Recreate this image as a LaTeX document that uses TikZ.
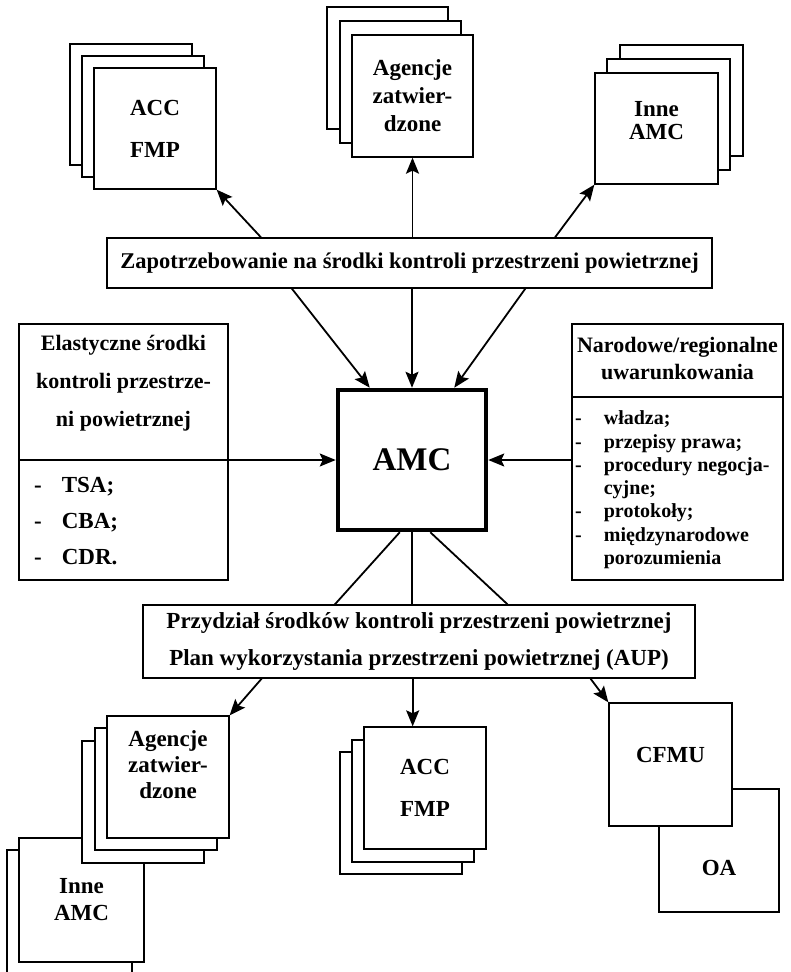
\documentclass[tikz,border=0pt]{standalone}
\usepackage{fontspec}
\setmainfont{Liberation Serif}
\usetikzlibrary{arrows.meta, positioning, calc}

\begin{document}
\begin{tikzpicture}[x=1pt, y=-1pt,
    sheet/.style={draw, fill=white, line width=1.3pt},
    rule/.style={line width=1.3pt},
    box/.style={sheet, inner sep=0pt, align=center, minimum width=122pt, minimum height=122pt,
      font=\bfseries\fontsize{23}{26}\selectfont},
    bar/.style={sheet, inner sep=0pt, align=center, font=\bfseries\fontsize{22.5}{37}\selectfont},
    txt/.style={inner sep=0pt, align=center, font=\bfseries\fontsize{23}{26}\selectfont},
    arr/.style={-{Stealth[length=16pt, width=13pt, inset=3pt]}, line width=1.8pt},
    link/.style={line width=1.8pt}]

  \clip (0,0) rectangle (790,972);

  % Top stacks
  \foreach \d in {24,12}
    \draw[sheet] (94-\d,68-\d) rectangle ++(122,121);
  \node[box, minimum height=121pt, font=\bfseries\fontsize{23}{42}\selectfont] (accTL) at (155,128.5) {ACC\\FMP};

  \foreach \dx/\dy in {25/28,12/14}
    \draw[sheet] (352-\dx,35-\dy) rectangle ++(121,122);
  \node[box, minimum width=121pt, font=\bfseries\fontsize{23}{28}\selectfont] (aggTM) at (412.5,96) {Agencje\\zatwier-\\dzone};

  \foreach \dx/\dy in {25/28,12/14}
    \draw[sheet] (595+\dx,73-\dy) rectangle ++(123,111);
  \node[box, minimum width=123pt, minimum height=111pt] (inneTR) at (656.5,128.5) {};
  \node[txt, font=\bfseries\fontsize{23}{23}\selectfont] (inneTRtxt) at (656.5,121) {Inne\\AMC};

  % Demand bar and centre
  \node[bar, minimum width=605pt, minimum height=50pt] (zap) at (409.5,263) {Zapotrzebowanie na środki kontroli przestrzeni powietrznej};
  \node[draw, fill=white, line width=4.5pt, inner sep=0pt, minimum width=148pt, minimum height=140pt,
    font=\bfseries\fontsize{33}{40}\selectfont] (amc) at (412,460) {AMC};

  % Left box
  \node[sheet, minimum width=209pt, minimum height=256pt] (elast) at (123.5,452) {};
  \draw[rule] (elast.west |- amc.west) -- (elast.east |- amc.west);
  \node[txt, font=\bfseries\fontsize{22}{38}\selectfont] (elastHead) at (123.5,383) {Elastyczne środki\\kontroli przestrze-\\ni powietrznej};
  \node[txt, anchor=west, align=left, font=\bfseries\fontsize{23}{36}\selectfont] (elastList) at (34,521)
    {\begin{tabular}{@{}l@{\hspace{20pt}}l@{}}-&TSA;\\-&CBA;\\-&CDR.\end{tabular}};

  % Right box
  \node[sheet, minimum width=211pt, minimum height=256pt] (narod) at (677.5,452) {};
  \coordinate (narodCut) at (677.5,397);
  \draw[rule] (narod.west |- narodCut) -- (narod.east |- narodCut);
  \node[txt, font=\bfseries\fontsize{22}{27}\selectfont] (narodHead) at (677.5,358) {Narodowe/regionalne\\uwarunkowania};
  \node[txt, anchor=west, align=left, font=\bfseries\fontsize{20}{23.3}\selectfont] (narodList) at (575,490)
    {\begin{tabular}{@{}l@{\hspace{22pt}}l@{}}-&władza;\\-&przepisy prawa;\\-&procedury negocja-\\&cyjne;\\-&protokoły;\\-&międzynarodowe\\&porozumienia\end{tabular}};

  % Allocation bar
  \node[bar, minimum width=552pt, minimum height=73pt, font=\bfseries\fontsize{23}{37}\selectfont] (przy) at (419,641.5)
    {Przydział środków kontroli przestrzeni powietrznej\\Plan wykorzystania przestrzeni powietrznej (AUP)};

  % Bottom stacks
  \draw[sheet] (7,850) rectangle ++(125,130);
  \node[box, minimum width=125pt, minimum height=124pt, font=\bfseries\fontsize{23}{27}\selectfont] (inneBL) at (81.5,900) {Inne\\AMC};

  \foreach \d in {25,12}
    \draw[sheet] (107-\d,716+\d) rectangle ++(122,122);
  \node[box] (aggBL) at (168,777) {};
  \node[txt, font=\bfseries\fontsize{23}{26}\selectfont] (aggBLtxt) at (168,765) {Agencje\\zatwier-\\dzone};

  \foreach \d in {24,12}
    \draw[sheet] (364-\d,728+\d) rectangle ++(122,122);
  \node[box, font=\bfseries\fontsize{23}{42}\selectfont] (accBM) at (425,788) {ACC\\FMP};

  \node[box, minimum width=120pt, minimum height=123pt] (oa) at (719,850.5) {};
  \node[txt] (oaTxt) at (719,868) {OA};
  \node[box, minimum width=123pt, minimum height=123pt] (cfmu) at (670.5,764.5) {};
  \node[txt] (cfmuTxt) at (670.5,755) {CFMU};

  % Connectors
  \draw[arr] ($(zap.north west)!0.255!(zap.north east)$) -- (accTL.south east);
  \draw[arr] (zap.north -| aggTM.south) -- (aggTM.south);
  \draw[arr] ($(zap.north west)!0.74!(zap.north east)$) -- (inneTR.south west);
  \draw[arr] ($(zap.south west)!0.306!(zap.south east)$) -- ($(amc.north west)!0.223!(amc.north east)$);
  \draw[arr] (zap.south -| amc.north) -- (amc.north);
  \draw[arr] ($(zap.south west)!0.691!(zap.south east)$) -- ($(amc.north west)!0.777!(amc.north east)$);
  \draw[arr] (elast.east |- amc.west) -- (amc.west);
  \draw[arr] (narod.west |- amc.east) -- (amc.east);
  \draw[link] ($(amc.south west)!0.42!(amc.south east)$) -- ($(przy.north west)!0.348!(przy.north east)$);
  \draw[link] (amc.south) -- (przy.north -| amc.south);
  \draw[link] ($(amc.south west)!0.62!(amc.south east)$) -- ($(przy.north west)!0.66!(przy.north east)$);
  \draw[arr] ($(przy.south west)!0.2156!(przy.south east)$) -- (aggBL.north east);
  \coordinate (accBMin) at ($(accBM.north west)!0.4!(accBM.north east)$);
  \draw[arr] (przy.south -| accBMin) -- (accBMin);
  \draw[arr] ($(przy.south west)!0.81!(przy.south east)$) -- (cfmu.north west);
\end{tikzpicture}
\end{document}
